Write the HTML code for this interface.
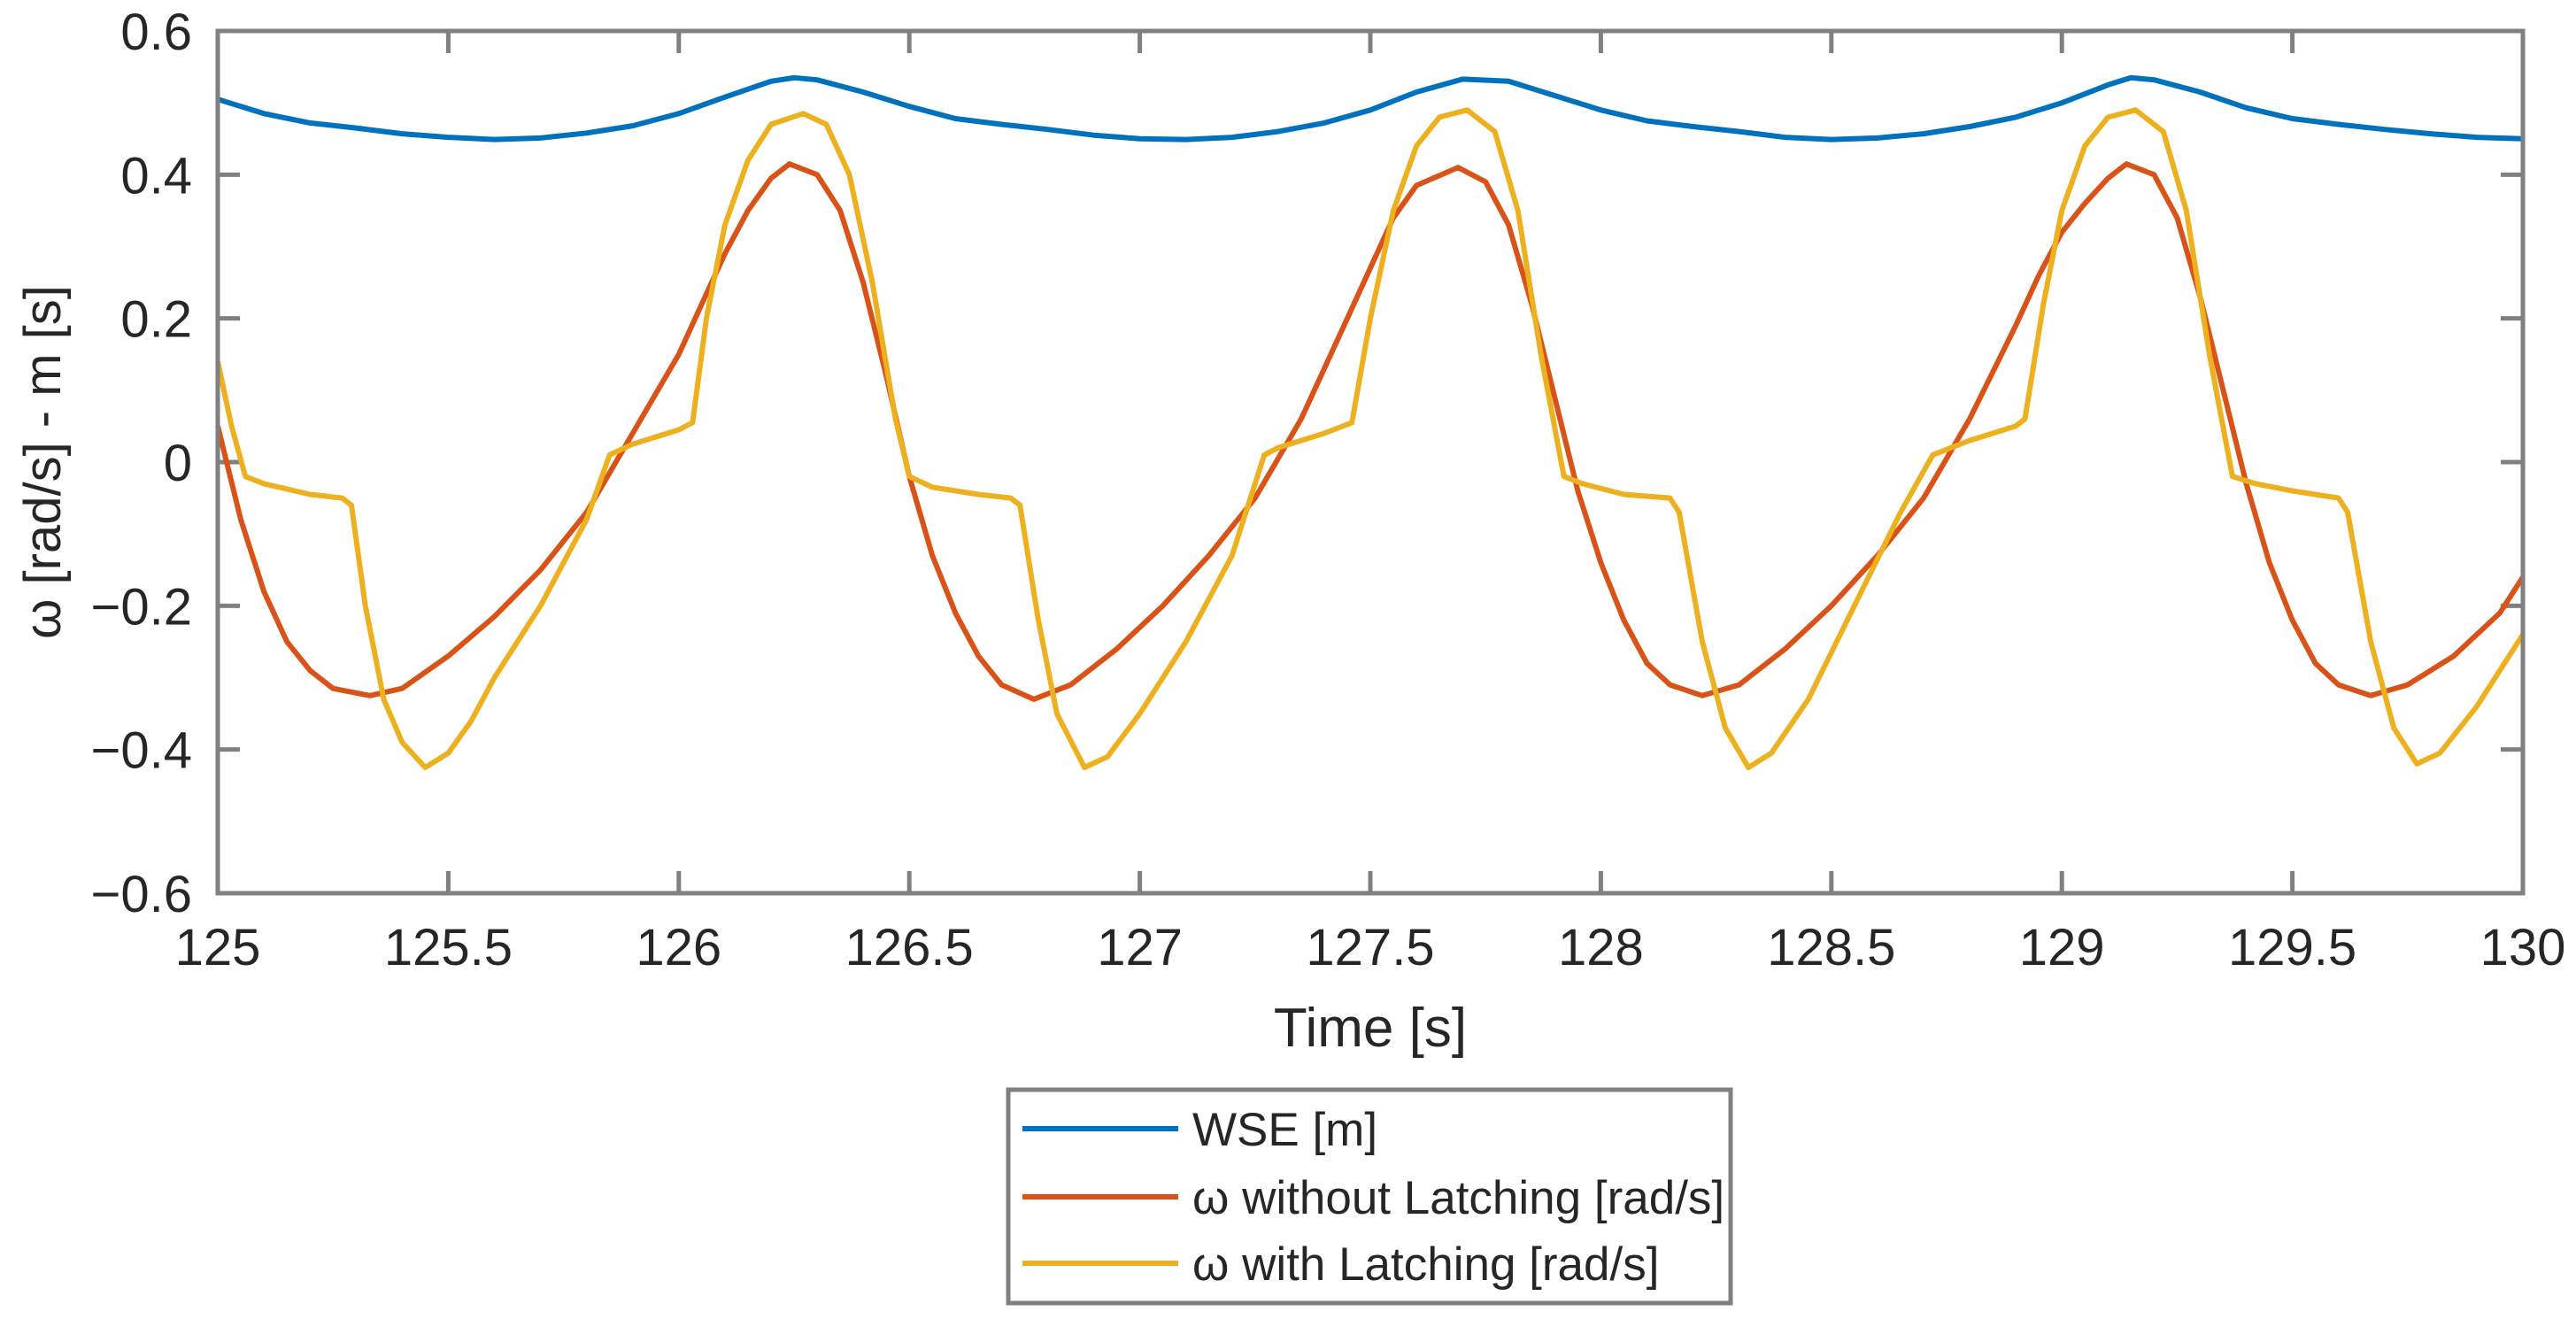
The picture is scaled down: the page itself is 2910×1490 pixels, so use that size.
<!DOCTYPE html>
<html><head><meta charset="utf-8"><style>
html,body{margin:0;padding:0;background:#fff}
svg{display:block}
text{font-family:"Liberation Sans",sans-serif;fill:#262626}
</style></head><body>
<svg id="chart" width="2910" height="1490" viewBox="0 0 2910 1490" xmlns="http://www.w3.org/2000/svg">
<g id="axes"></g>
<g id="series"></g>
<rect x="246" y="35" width="2604" height="974" fill="none" stroke="#808080" stroke-width="5"/>
<text x="1548" y="1182" font-size="62" text-anchor="middle">Time [s]</text>
<text transform="translate(68,522) rotate(-90)" font-size="58" text-anchor="middle">ω [rad/s] - m [s]</text>
<g>
<rect x="1139" y="1231" width="816" height="241" fill="#fff" stroke="#808080" stroke-width="5"/>
<line x1="1155" y1="1275" x2="1331" y2="1275" stroke="#0072BD" stroke-width="6"/>
<text x="1347" y="1294" font-size="53">WSE [m]</text>
<line x1="1155" y1="1352" x2="1331" y2="1352" stroke="#D95319" stroke-width="6"/>
<text x="1347" y="1371" font-size="53">ω without Latching [rad/s]</text>
<line x1="1155" y1="1427" x2="1331" y2="1427" stroke="#EDB120" stroke-width="6"/>
<text x="1347" y="1446" font-size="53">ω with Latching [rad/s]</text>
</g>
</svg>
<script>
const xTicks = [125,125.5,126,126.5,127,127.5,128,128.5,129,129.5,130];
const xTickLabels = ["125","125.5","126","126.5","127","127.5","128","128.5","129","129.5","130"];
const yTicks = [-0.6,-0.4,-0.2,0,0.2,0.4,0.6];
const yTickLabels = ["\u22120.6","\u22120.4","\u22120.2","0","0.2","0.4","0.6"];
const wseT = [125,125.1,125.2,125.3,125.4,125.5,125.6,125.7,125.8,125.9,126.0,126.1,126.2,126.25,126.3,126.4,126.5,126.6,126.7,126.8,126.9,127.0,127.1,127.2,127.3,127.4,127.5,127.6,127.7,127.8,127.9,128.0,128.1,128.2,128.3,128.4,128.5,128.6,128.7,128.8,128.9,129.0,129.1,129.15,129.2,129.3,129.4,129.5,129.6,129.7,129.8,129.9,130];
const wseV = [0.505,0.485,0.472,0.465,0.457,0.452,0.449,0.451,0.458,0.468,0.485,0.508,0.53,0.535,0.532,0.515,0.495,0.478,0.47,0.463,0.455,0.45,0.449,0.452,0.46,0.472,0.49,0.515,0.533,0.53,0.51,0.49,0.475,0.467,0.46,0.452,0.449,0.451,0.457,0.467,0.48,0.5,0.525,0.535,0.532,0.515,0.493,0.478,0.47,0.463,0.457,0.452,0.45];
const noLatchT = [125,125.05,125.1,125.15,125.2,125.25,125.33,125.4,125.5,125.6,125.7,125.8,125.9,126.0,126.05,126.1,126.15,126.2,126.24,126.3,126.35,126.4,126.45,126.5,126.55,126.6,126.65,126.7,126.77,126.85,126.95,127.05,127.15,127.25,127.35,127.45,127.5,127.55,127.6,127.69,127.75,127.8,127.85,127.9,127.95,128.0,128.05,128.1,128.15,128.22,128.3,128.4,128.5,128.6,128.7,128.8,128.9,128.95,129.0,129.05,129.1,129.14,129.2,129.25,129.3,129.35,129.4,129.45,129.5,129.55,129.6,129.67,129.75,129.85,129.95,130];
const noLatchV = [0.05,-0.08,-0.18,-0.25,-0.29,-0.315,-0.325,-0.315,-0.27,-0.215,-0.15,-0.07,0.04,0.15,0.22,0.29,0.35,0.395,0.415,0.4,0.35,0.25,0.12,-0.02,-0.13,-0.21,-0.27,-0.31,-0.33,-0.31,-0.26,-0.2,-0.13,-0.05,0.06,0.2,0.27,0.34,0.385,0.41,0.39,0.33,0.22,0.09,-0.04,-0.14,-0.22,-0.28,-0.31,-0.325,-0.31,-0.26,-0.2,-0.13,-0.05,0.06,0.19,0.26,0.32,0.36,0.395,0.415,0.4,0.34,0.23,0.1,-0.03,-0.14,-0.22,-0.28,-0.31,-0.325,-0.31,-0.27,-0.21,-0.16];
const latchT = [125,125.03,125.06,125.1,125.2,125.27,125.29,125.32,125.36,125.4,125.45,125.5,125.55,125.6,125.7,125.8,125.85,125.9,126.0,126.03,126.06,126.1,126.15,126.2,126.27,126.32,126.37,126.42,126.47,126.5,126.55,126.65,126.72,126.74,126.78,126.82,126.88,126.93,127.0,127.1,127.2,127.27,127.3,127.4,127.46,127.5,127.55,127.6,127.65,127.71,127.77,127.82,127.87,127.92,127.96,128.05,128.15,128.17,128.22,128.27,128.32,128.37,128.45,128.55,128.65,128.72,128.8,128.9,128.92,128.96,129.0,129.05,129.1,129.16,129.22,129.27,129.32,129.37,129.42,129.5,129.6,129.62,129.67,129.72,129.77,129.82,129.9,130];
const latchV = [0.14,0.05,-0.02,-0.03,-0.045,-0.05,-0.06,-0.2,-0.33,-0.39,-0.425,-0.405,-0.36,-0.3,-0.2,-0.08,0.01,0.025,0.045,0.055,0.2,0.33,0.42,0.47,0.485,0.47,0.4,0.25,0.06,-0.02,-0.035,-0.045,-0.05,-0.06,-0.22,-0.35,-0.425,-0.41,-0.35,-0.25,-0.13,0.01,0.02,0.04,0.055,0.2,0.35,0.44,0.48,0.49,0.46,0.35,0.15,-0.02,-0.03,-0.045,-0.05,-0.07,-0.25,-0.37,-0.425,-0.405,-0.33,-0.2,-0.07,0.01,0.03,0.05,0.06,0.22,0.35,0.44,0.48,0.49,0.46,0.35,0.15,-0.02,-0.03,-0.04,-0.05,-0.07,-0.25,-0.37,-0.42,-0.405,-0.34,-0.24];

const L=246,R=2850,T=35,B=1009;
const xs = t => L + (t-125)/5*(R-L);
const ys = v => T + (0.6-v)/1.2*(B-T);
const NS="http://www.w3.org/2000/svg";
const axes=document.getElementById('axes');
const ser=document.getElementById('series');
function mk(tag,attrs,parent){const e=document.createElementNS(NS,tag);for(const k in attrs)e.setAttribute(k,attrs[k]);parent.appendChild(e);return e;}
xTicks.forEach((t,i)=>{
  const x=xs(t);
  const a=mk('line',{x1:x,y1:B,x2:x,y2:B-25,stroke:'#808080','stroke-width':5},axes);
  
  
  const b=mk('line',{x1:x,y1:T,x2:x,y2:T+25,stroke:'#808080','stroke-width':5},axes);
  
  
  const tx=mk('text',{x:x,y:1090,'font-size':58,'text-anchor':'middle'},axes);
  tx.textContent=xTickLabels[i];
  
  
});
yTicks.forEach((v,i)=>{
  const y=ys(v);
  const a=mk('line',{x1:L,y1:y,x2:L+25,y2:y,stroke:'#808080','stroke-width':5},axes);
  
  
  const b=mk('line',{x1:R,y1:y,x2:R-25,y2:y,stroke:'#808080','stroke-width':5},axes);
  
  
  const tx=mk('text',{x:217,y:y+21,'font-size':58,'text-anchor':'end'},axes);
  tx.textContent=yTickLabels[i];
  
  
});
function line(ts,vs,color,name){
  const d=ts.map((t,i)=>(i?'L':'M')+xs(t).toFixed(1)+' '+ys(vs[i]).toFixed(1)).join(' ');
  const p=mk('path',{d:d,fill:'none',stroke:color,'stroke-width':6,'stroke-linejoin':'round'},ser);
  
  
}
line(wseT,wseV,'#0072BD','wse-line');
line(noLatchT,noLatchV,'#D95319','without-latching-line');
line(latchT,latchV,'#EDB120','with-latching-line');
</script>
</body></html>
